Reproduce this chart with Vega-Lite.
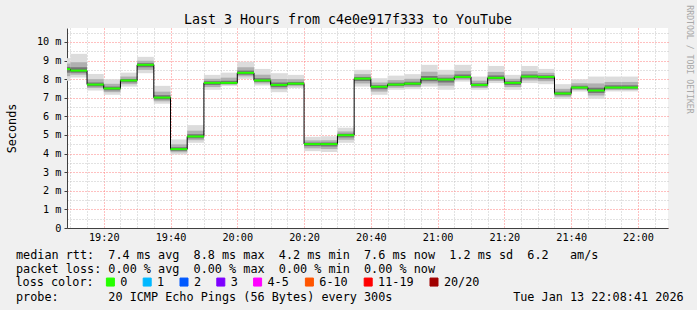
{
  "$schema": "https://vega.github.io/schema/vega-lite/v6.json",
  "width": 601,
  "height": 200,
  "autosize": {"type": "none"},
  "padding": {"left": 67, "top": 28, "right": 29, "bottom": 82},
  "background": "#f0f0f0",
  "config": {"view": {"stroke": null, "fill": "#ffffff"}, "font": "DejaVu Sans Mono"},
  "title": {"text": "Last 3 Hours from c4e0e917f333 to YouTube", "font": "DejaVu Sans Mono", "fontSize": 13.3, "fontWeight": "normal", "color": "#000000", "anchor": "middle", "frame": "group", "dx": -19.5, "offset": 2, "dy": 23.3},
  "data": {"values": [
    {"t0":"2026-01-13T19:05:00","t1":"2026-01-13T19:10:00","med":8.54,"lo":7.91,"hi":9.13,"m1":8.16,"m2":8.84,"c1":8.35,"c2":8.66,"loss":"0"},
    {"t0":"2026-01-13T19:10:00","t1":"2026-01-13T19:15:00","med":8.46,"lo":8.09,"hi":9.36,"m1":8.24,"m2":8.91,"c1":8.35,"c2":8.64,"loss":"0"},
    {"t0":"2026-01-13T19:15:00","t1":"2026-01-13T19:20:00","med":7.71,"lo":7.39,"hi":8.28,"m1":7.52,"m2":8.00,"c1":7.61,"c2":7.82,"loss":"0"},
    {"t0":"2026-01-13T19:20:00","t1":"2026-01-13T19:25:00","med":7.50,"lo":7.16,"hi":8.00,"m1":7.30,"m2":7.75,"c1":7.40,"c2":7.60,"loss":"0"},
    {"t0":"2026-01-13T19:25:00","t1":"2026-01-13T19:30:00","med":7.93,"lo":7.60,"hi":8.35,"m1":7.73,"m2":8.14,"c1":7.83,"c2":8.01,"loss":"0"},
    {"t0":"2026-01-13T19:30:00","t1":"2026-01-13T19:35:00","med":8.77,"lo":8.32,"hi":9.20,"m1":8.50,"m2":8.99,"c1":8.64,"c2":8.86,"loss":"0"},
    {"t0":"2026-01-13T19:35:00","t1":"2026-01-13T19:40:00","med":7.01,"lo":6.68,"hi":7.64,"m1":6.81,"m2":7.33,"c1":6.91,"c2":7.14,"loss":"0"},
    {"t0":"2026-01-13T19:40:00","t1":"2026-01-13T19:45:00","med":4.24,"lo":3.95,"hi":4.76,"m1":4.07,"m2":4.50,"c1":4.15,"c2":4.34,"loss":"0"},
    {"t0":"2026-01-13T19:45:00","t1":"2026-01-13T19:50:00","med":4.92,"lo":4.58,"hi":5.53,"m1":4.72,"m2":5.23,"c1":4.82,"c2":5.04,"loss":"0"},
    {"t0":"2026-01-13T19:50:00","t1":"2026-01-13T19:55:00","med":7.80,"lo":7.43,"hi":8.23,"m1":7.58,"m2":8.02,"c1":7.69,"c2":7.89,"loss":"0"},
    {"t0":"2026-01-13T19:55:00","t1":"2026-01-13T20:00:00","med":7.80,"lo":7.64,"hi":8.35,"m1":7.70,"m2":8.08,"c1":7.75,"c2":7.91,"loss":"0"},
    {"t0":"2026-01-13T20:00:00","t1":"2026-01-13T20:05:00","med":8.34,"lo":8.02,"hi":8.94,"m1":8.15,"m2":8.64,"c1":8.24,"c2":8.46,"loss":"0"},
    {"t0":"2026-01-13T20:05:00","t1":"2026-01-13T20:10:00","med":7.93,"lo":7.66,"hi":8.55,"m1":7.77,"m2":8.24,"c1":7.85,"c2":8.05,"loss":"0"},
    {"t0":"2026-01-13T20:10:00","t1":"2026-01-13T20:15:00","med":7.69,"lo":7.30,"hi":8.32,"m1":7.46,"m2":8.01,"c1":7.57,"c2":7.82,"loss":"0"},
    {"t0":"2026-01-13T20:15:00","t1":"2026-01-13T20:20:00","med":7.76,"lo":7.52,"hi":8.23,"m1":7.62,"m2":8.00,"c1":7.69,"c2":7.85,"loss":"0"},
    {"t0":"2026-01-13T20:20:00","t1":"2026-01-13T20:25:00","med":4.51,"lo":4.13,"hi":4.90,"m1":4.28,"m2":4.71,"c1":4.40,"c2":4.59,"loss":"0"},
    {"t0":"2026-01-13T20:25:00","t1":"2026-01-13T20:30:00","med":4.51,"lo":4.08,"hi":4.93,"m1":4.25,"m2":4.72,"c1":4.38,"c2":4.59,"loss":"0"},
    {"t0":"2026-01-13T20:30:00","t1":"2026-01-13T20:35:00","med":4.99,"lo":4.58,"hi":5.39,"m1":4.74,"m2":5.19,"c1":4.87,"c2":5.07,"loss":"0"},
    {"t0":"2026-01-13T20:35:00","t1":"2026-01-13T20:40:00","med":8.03,"lo":7.60,"hi":8.50,"m1":7.77,"m2":8.27,"c1":7.90,"c2":8.12,"loss":"0"},
    {"t0":"2026-01-13T20:40:00","t1":"2026-01-13T20:45:00","med":7.59,"lo":7.16,"hi":8.05,"m1":7.33,"m2":7.82,"c1":7.46,"c2":7.68,"loss":"0"},
    {"t0":"2026-01-13T20:45:00","t1":"2026-01-13T20:50:00","med":7.71,"lo":7.43,"hi":8.19,"m1":7.54,"m2":7.95,"c1":7.63,"c2":7.81,"loss":"0"},
    {"t0":"2026-01-13T20:50:00","t1":"2026-01-13T20:55:00","med":7.76,"lo":7.46,"hi":8.27,"m1":7.58,"m2":8.02,"c1":7.67,"c2":7.86,"loss":"0"},
    {"t0":"2026-01-13T20:55:00","t1":"2026-01-13T21:00:00","med":8.02,"lo":7.60,"hi":8.77,"m1":7.77,"m2":8.40,"c1":7.89,"c2":8.17,"loss":"0"},
    {"t0":"2026-01-13T21:00:00","t1":"2026-01-13T21:05:00","med":7.98,"lo":7.43,"hi":8.50,"m1":7.65,"m2":8.24,"c1":7.82,"c2":8.08,"loss":"0"},
    {"t0":"2026-01-13T21:05:00","t1":"2026-01-13T21:10:00","med":8.12,"lo":7.87,"hi":8.77,"m1":7.97,"m2":8.45,"c1":8.05,"c2":8.25,"loss":"0"},
    {"t0":"2026-01-13T21:10:00","t1":"2026-01-13T21:15:00","med":7.69,"lo":7.43,"hi":8.14,"m1":7.53,"m2":7.92,"c1":7.61,"c2":7.78,"loss":"0"},
    {"t0":"2026-01-13T21:15:00","t1":"2026-01-13T21:20:00","med":8.07,"lo":7.79,"hi":8.71,"m1":7.90,"m2":8.39,"c1":7.99,"c2":8.20,"loss":"0"},
    {"t0":"2026-01-13T21:20:00","t1":"2026-01-13T21:25:00","med":7.80,"lo":7.43,"hi":8.23,"m1":7.58,"m2":8.02,"c1":7.69,"c2":7.89,"loss":"0"},
    {"t0":"2026-01-13T21:25:00","t1":"2026-01-13T21:30:00","med":8.14,"lo":7.79,"hi":8.71,"m1":7.93,"m2":8.43,"c1":8.04,"c2":8.25,"loss":"0"},
    {"t0":"2026-01-13T21:30:00","t1":"2026-01-13T21:35:00","med":8.12,"lo":7.73,"hi":8.55,"m1":7.89,"m2":8.34,"c1":8.00,"c2":8.21,"loss":"0"},
    {"t0":"2026-01-13T21:35:00","t1":"2026-01-13T21:40:00","med":7.23,"lo":6.94,"hi":7.73,"m1":7.06,"m2":7.48,"c1":7.14,"c2":7.33,"loss":"0"},
    {"t0":"2026-01-13T21:40:00","t1":"2026-01-13T21:45:00","med":7.55,"lo":7.34,"hi":8.00,"m1":7.42,"m2":7.78,"c1":7.49,"c2":7.64,"loss":"0"},
    {"t0":"2026-01-13T21:45:00","t1":"2026-01-13T21:50:00","med":7.39,"lo":6.94,"hi":8.14,"m1":7.12,"m2":7.77,"c1":7.26,"c2":7.54,"loss":"0"},
    {"t0":"2026-01-13T21:50:00","t1":"2026-01-13T21:55:00","med":7.55,"lo":7.34,"hi":8.14,"m1":7.42,"m2":7.85,"c1":7.49,"c2":7.67,"loss":"0"},
    {"t0":"2026-01-13T21:55:00","t1":"2026-01-13T22:00:00","med":7.55,"lo":7.34,"hi":8.14,"m1":7.42,"m2":7.85,"c1":7.49,"c2":7.67,"loss":"0"}
  ]},
  "resolve": {"axis": {"y": "independent"}},
  "layer": [
    {
      "mark": {"type": "rect", "color": "#dcdcdc", "clip": true},
      "encoding": {
        "x": {"field": "t0", "type": "temporal",
          "scale": {"domain": [{"expr": "toDate('2026-01-13T19:09:00')"}, {"expr": "toDate('2026-01-13T22:09:00')"}]},
          "axis": {"orient": "bottom", "tickCount": 36,
            "labelExpr": "minutes(datum.value) % 20 == 0 ? timeFormat(datum.value, '%H:%M') : ''",
            "grid": true,
            "gridColor": {"condition": {"test": "minutes(datum.value) % 20 == 0", "value": "#ff8080"}, "value": "#c4c4c4"},
            "gridDash": [1, 2], "gridWidth": 1,
            "domain": true, "domainColor": "#404040", "ticks": false,
            "labelFont": "DejaVu Sans Mono", "labelFontSize": 10.2, "labelColor": "#000000", "labelPadding": 4, "labelFlush": false, "labelOverlap": false,
            "title": [
              "median\u00a0rtt:\u00a0\u00a07.4\u00a0ms\u00a0avg\u00a0\u00a08.8\u00a0ms\u00a0max\u00a0\u00a04.2\u00a0ms\u00a0min\u00a0\u00a07.6\u00a0ms\u00a0now\u00a0\u00a01.2\u00a0ms\u00a0sd\u00a0\u00a06.2\u00a0\u00a0\u00a0am/s",
              "packet\u00a0loss:\u00a00.00\u00a0%\u00a0avg\u00a0\u00a00.00\u00a0%\u00a0max\u00a0\u00a00.00\u00a0%\u00a0min\u00a0\u00a00.00\u00a0%\u00a0now",
              "\u200b",
              "probe:\u00a0\u00a0\u00a0\u00a0\u00a0\u00a0\u00a020\u00a0ICMP\u00a0Echo\u00a0Pings\u00a0(56\u00a0Bytes)\u00a0every\u00a0300s\u00a0\u00a0\u00a0\u00a0\u00a0\u00a0\u00a0\u00a0\u00a0\u00a0\u00a0\u00a0\u00a0\u00a0\u00a0\u00a0\u00a0Tue\u00a0Jan\u00a013\u00a022:08:41\u00a02026"
            ],
            "titleFont": "DejaVu Sans Mono", "titleFontSize": 11.8, "titleFontWeight": "normal", "titleColor": "#000000",
            "titleAlign": "left", "titleAnchor": "start", "titleX": -51.5, "titleY": 30.3, "titleBaseline": "alphabetic", "titleLineHeight": 14}},
        "x2": {"field": "t1"},
        "y": {"field": "lo", "type": "quantitative", "scale": {"domain": [0, 10.75], "nice": false, "zero": true},
          "axis": {"orient": "left", "values": [0, 0.5, 1, 1.5, 2, 2.5, 3, 3.5, 4, 4.5, 5, 5.5, 6, 6.5, 7, 7.5, 8, 8.5, 9, 9.5, 10, 10.5],
            "tickCount": 100,
            "labelExpr": "datum.value == 0 ? '0' : (datum.value % 1 == 0 ? datum.value + ' m' : '')",
            "labelOverlap": false,
            "grid": true,
            "gridColor": {"condition": {"test": "datum.value % 1 == 0", "value": "#ff8080"}, "value": "#c4c4c4"},
            "gridDash": [1, 2], "gridWidth": 1,
            "domain": true, "domainColor": "#404040", "ticks": true, "tickSize": 3,
            "tickOpacity": {"condition": {"test": "datum.value % 1 == 0", "value": 1}, "value": 0},
            "tickColor": "#404040",
            "labelFont": "DejaVu Sans Mono", "labelFontSize": 10.2, "labelColor": "#000000", "labelPadding": 3,
            "title": "Seconds", "titleFont": "DejaVu Sans Mono", "titleFontSize": 11.8, "titleFontWeight": "normal", "titleColor": "#000000",
            "titleAngle": 270, "titleX": -56, "titleY": 100, "titleAlign": "center", "titleBaseline": "middle"}},
        "y2": {"field": "hi"}
      }
    },
    {
      "mark": {"type": "rect", "color": "#b0b0b0", "clip": true},
      "encoding": {
        "x": {"field": "t0", "type": "temporal"},
        "x2": {"field": "t1"},
        "y": {"field": "m1", "type": "quantitative",
          "axis": {"orient": "right", "labels": false, "ticks": false, "domain": false, "grid": false,
            "title": "RRDTOOL / TOBI OETIKER", "titleFont": "DejaVu Sans Mono", "titleFontSize": 8.2, "titleFontWeight": "normal", "titleColor": "#a8a8a8",
            "titleAngle": 90, "titleX": 20, "titleY": 31, "titleAlign": "center", "titleBaseline": "middle"}},
        "y2": {"field": "m2"}
      }
    },
    {
      "mark": {"type": "rect", "color": "#747474", "clip": true},
      "encoding": {
        "x": {"field": "t0", "type": "temporal"},
        "x2": {"field": "t1"},
        "y": {"field": "c1", "type": "quantitative", "axis": null},
        "y2": {"field": "c2"}
      }
    },
    {
      "mark": {"type": "line", "interpolate": "step-after", "color": "#000000", "strokeWidth": 1, "clip": true},
      "encoding": {
        "x": {"field": "t0", "type": "temporal"},
        "y": {"field": "med", "type": "quantitative", "axis": null}
      }
    },
    {
      "mark": {"type": "rule", "strokeWidth": 2, "clip": true},
      "encoding": {
        "x": {"field": "t0", "type": "temporal"},
        "x2": {"field": "t1"},
        "y": {"field": "med", "type": "quantitative", "axis": null},
        "color": {"field": "loss", "type": "nominal",
          "scale": {"domain": ["0", "1", "2", "3", "4-5", "6-10", "11-19", "20/20"],
                    "range": ["#26ff00", "#00b8ff", "#0059ff", "#7e00ff", "#ff00ff", "#ff5500", "#ff0000", "#a10000"]},
          "legend": {"orient": "none", "legendX": -51.5, "legendY": 248, "direction": "horizontal",
            "title": "loss color:", "titleOrient": "left", "titleFont": "DejaVu Sans Mono", "titleFontSize": 11.8, "titleFontWeight": "normal", "titleColor": "#000000", "titlePadding": 10,
            "labelFont": "DejaVu Sans Mono", "labelFontSize": 11.8, "labelColor": "#000000", "labelOffset": 4, "columnPadding": 12.8,
            "symbolType": "square", "symbolSize": 64, "symbolStrokeColor": "#000000", "symbolStrokeWidth": 1, "symbolOpacity": 1,
            "encode": {"symbols": {"update": {"fill": {"scale": "color", "field": "value"}, "fillOpacity": {"value": 1}}}}}}
      }
    }
  ]
}
